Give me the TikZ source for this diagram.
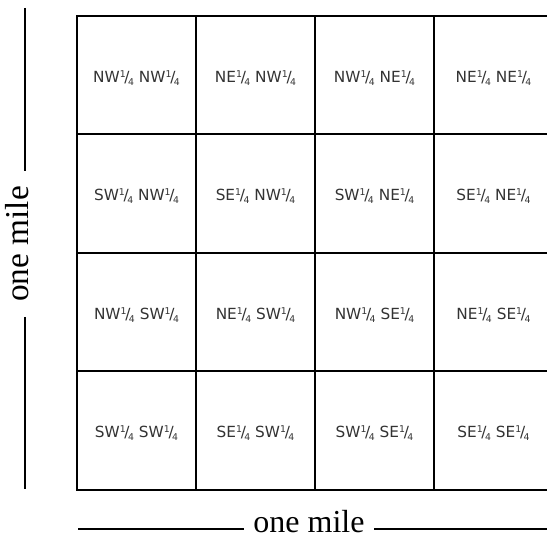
\documentclass[tikz,border=0pt]{standalone}
\usepackage{fontspec}
\setmainfont{Liberation Serif}
\newfontfamily\letterfont{DejaVu Sans}
\newcommand{\quart}{\raisebox{.55ex}{\scriptsize 1}\kern-.08em/\kern-.1em\raisebox{-.4ex}{\scriptsize 4}}

\begin{document}
\begin{tikzpicture}[x=0.75pt, y=-0.75pt,
	grid/.style={black, line width=1.5pt},
	scaleline/.style={black, line width=1.3pt},
	cell/.style={text=black!80, font=\letterfont\fontsize{11.5}{13}\selectfont, inner sep=0pt},
	mile/.style={font=\fontsize{24}{24}\selectfont, inner xsep=7pt, inner ysep=0pt}]
	\useasboundingbox (0,0) rectangle (547,538);
	% section lines
	\foreach \x in {77,196,315,434} {\draw[grid] (\x,16) -- (\x,490);}
	\foreach \y in {16,134.5,253,371.5,490} {\draw[grid] (76.25,\y) -- (547,\y);}
	% forty-acre labels
	\foreach \lab [count=\i from 0] in {NW\quart\ NW\quart, NE\quart\ NW\quart, NW\quart\ NE\quart, NE\quart\ NE\quart,
		SW\quart\ NW\quart, SE\quart\ NW\quart, SW\quart\ NE\quart, SE\quart\ NE\quart,
		NW\quart\ SW\quart, NE\quart\ SW\quart, NW\quart\ SE\quart, NE\quart\ SE\quart,
		SW\quart\ SW\quart, SE\quart\ SW\quart, SW\quart\ SE\quart, SE\quart\ SE\quart} {
		\pgfmathtruncatemacro{\col}{mod(\i,4)}
		\pgfmathtruncatemacro{\row}{\i/4}
		\node[cell] (c\i) at (136.5+119*\col, 78+118.5*\row) {\lab};
	}
	% scale marks
	\node[mile, anchor=mid, rotate=90, font=\fontsize{25}{25}\selectfont, inner xsep=11pt] (vmile) at (25,244) {one mile};
	\coordinate (vtop) at (25,8);
	\coordinate (vbot) at (25,489);
	\draw[scaleline] (vtop) -- (vmile.mid east);
	\draw[scaleline] (vmile.mid west) -- (vbot);
	\node[mile, anchor=mid] (hmile) at (309,529) {one mile};
	\coordinate (hleft) at (78,529);
	\coordinate (hright) at (547,529);
	\draw[scaleline] (hleft) -- (hmile.mid west);
	\draw[scaleline] (hmile.mid east) -- (hright);
\end{tikzpicture}
\end{document}
